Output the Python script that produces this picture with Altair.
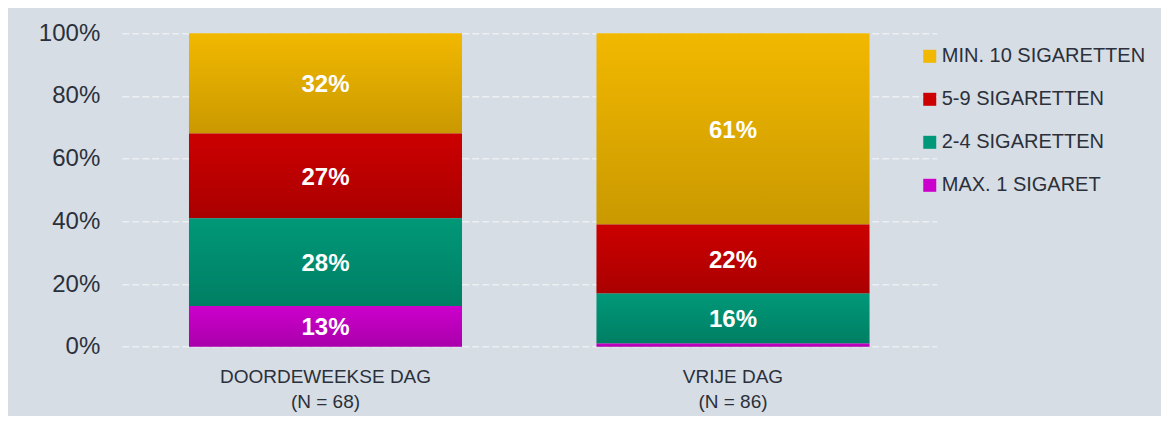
import altair as alt
import pandas as pd

# ---- data ----
days = ["DOORDEWEEKSE DAG|(N = 68)", "VRIJE DAG|(N = 86)"]
series = ["MIN. 10 SIGARETTEN", "5-9 SIGARETTEN", "2-4 SIGARETTEN", "MAX. 1 SIGARET"]
colors = ["#f2b800", "#cc0000", "#009878", "#cc00cc"]
weekday_values = [32, 27, 28, 13]
freeday_values = [61, 22, 16, 1]
y_ticks = [0, 20, 40, 60, 80, 100]

rows = []
for day, vals in zip(days, [weekday_values, freeday_values]):
    for i, (s, v) in enumerate(zip(series, vals)):
        rows.append({"day": day, "series": s, "value": v,
                     "rank": len(series) - 1 - i, "label": f"{v}%"})
df = pd.DataFrame(rows)

TEXT = "#2b303a"
FONT = "Liberation Sans"

base = alt.Chart(df).transform_stack(
    stack="value", groupby=["day"], as_=["y0", "y1"],
    sort=[alt.SortField("rank", order="ascending")]
)

x_enc = alt.X(
    "day:N", sort=days,
    scale=alt.Scale(paddingInner=0.33, paddingOuter=0.165),
    axis=alt.Axis(title=None, labelExpr="split(datum.label, '|')", labelAngle=0,
                  domain=False, ticks=False, labelFontSize=19, labelLineHeight=25,
                  labelPadding=21, labelColor=TEXT, labelFont=FONT, labelLimit=0),
)
y_enc = alt.Y(
    "y0:Q", scale=alt.Scale(domain=[0, 100], nice=False),
    axis=alt.Axis(title=None, values=y_ticks, labelExpr="datum.value + '%'",
                  domain=False, ticks=False, labelFontSize=24, labelPadding=22,
                  labelColor=TEXT, labelFont=FONT,
                  grid=True, gridColor="#edf0f3", gridDash=[7, 3], gridWidth=1.5),
)

bars = base.mark_bar().encode(
    x=x_enc, y=y_enc, y2="y1:Q",
    color=alt.Color(
        "series:N",
        scale=alt.Scale(domain=series, range=colors),
        legend=alt.Legend(
            title=None, orient="none", legendX=798, legendY=13,
            symbolType="square", symbolSize=169, symbolStrokeWidth=0,
            symbolOpacity=1, labelFontSize=20, labelColor=TEXT, labelFont=FONT,
            labelOffset=2, rowPadding=23, padding=0, labelLimit=400,
        ),
    ),
)

shade = base.mark_bar(
    color=alt.Gradient(
        gradient="linear", x1=0, x2=0, y1=0, y2=1,
        stops=[alt.GradientStop(color="rgba(0,0,0,0)", offset=0),
               alt.GradientStop(color="rgba(0,0,0,0.17)", offset=1)],
    )
).encode(x=alt.X("day:N", sort=days), y="y0:Q", y2="y1:Q")

texts = base.transform_calculate(
    mid="(datum.y0 + datum.y1) / 2"
).transform_filter("datum.value >= 5").mark_text(
    color="white", fontWeight="bold", fontSize=24, font=FONT, baseline="middle", dy=2
).encode(x=alt.X("day:N", sort=days), y="mid:Q", text="label:N")

chart = alt.layer(bars, shade, texts).properties(
    width=815, height=313.4,
    autosize=alt.AutoSizeParams(type="none"),
    padding={"left": 113.75, "top": 25.3, "right": 224.25, "bottom": 69.3},
).configure(
    background="#d6dde5", font=FONT
).configure_view(stroke=None)

chart.save("out.html", embed_options={"renderer": "svg", "actions": False})
